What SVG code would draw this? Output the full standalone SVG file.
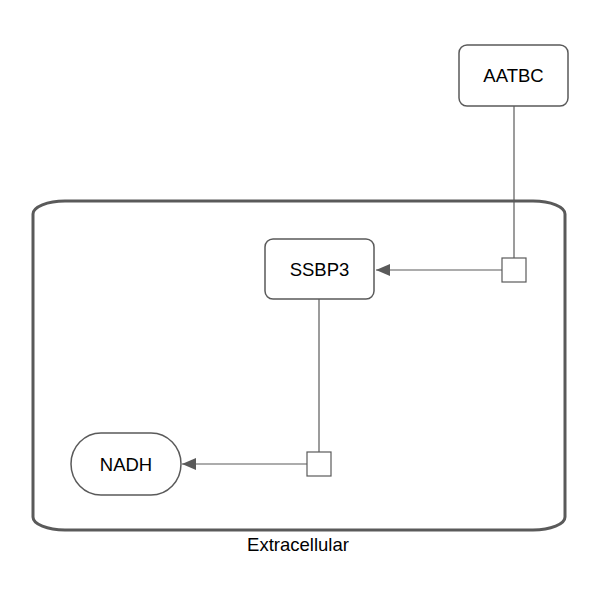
<svg xmlns="http://www.w3.org/2000/svg" width="600" height="600" viewBox="0 0 600 600">
<style>
.node{fill:#fff;stroke:#5a5a5a;stroke-width:1.5}
.lbl{font-family:"Liberation Sans",Arial,sans-serif;font-size:18.5px;fill:#000;text-anchor:middle;dominant-baseline:central}
.edge{stroke:#5a5a5a;stroke-width:1.2;fill:none}
.pn{fill:#fff;stroke:#5a5a5a;stroke-width:1.2}
</style>
<defs>
<marker id="arr" markerWidth="14" markerHeight="12" refX="14" refY="6" orient="auto" markerUnits="userSpaceOnUse">
<path d="M0,0 L14,6 L0,12 Z" fill="#5a5a5a"/>
</marker>
</defs>
<rect width="600" height="600" fill="#fff"/>
<g id="compartment">
<rect x="33" y="201" width="532" height="329" rx="32" ry="13" fill="none" stroke="#5a5a5a" stroke-width="3"/>
<text class="lbl" x="298" y="544">Extracellular</text>
</g>
<g id="connectors">
<path class="edge" d="M514,106 L514,258"/>
<path class="edge" d="M502,270 L376,270" marker-end="url(#arr)"/>
<rect class="pn" x="502" y="258" width="24" height="24"/>
<path class="edge" d="M319,299 L319,452"/>
<path class="edge" d="M307,464 L182,464" marker-end="url(#arr)"/>
<rect class="pn" x="307" y="452" width="24" height="24"/>
</g>
<g id="AATBC">
<rect class="node" x="459" y="45" width="109" height="61" rx="8"/>
<text class="lbl" x="513.5" y="75.5">AATBC</text>
</g>
<g id="SSBP3">
<rect class="node" x="265" y="239" width="109" height="60" rx="8"/>
<text class="lbl" x="319.5" y="269">SSBP3</text>
</g>
<g id="NADH">
<rect class="node" x="71" y="433" width="110" height="62" rx="30" ry="31"/>
<text class="lbl" x="126" y="464">NADH</text>
</g>
</svg>
